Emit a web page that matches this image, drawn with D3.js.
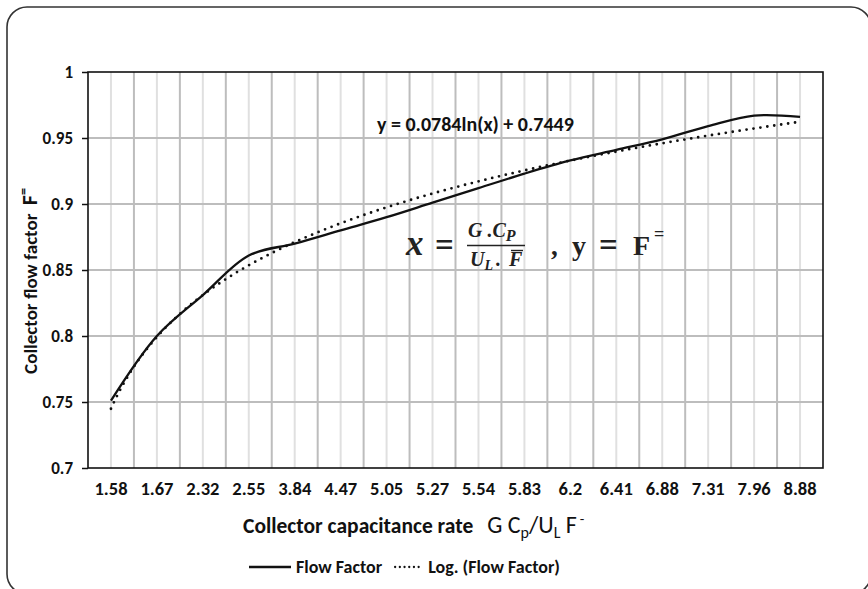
<!DOCTYPE html>
<html>
<head>
<meta charset="utf-8">
<script src="https://cdn.jsdelivr.net/npm/d3@7"></script>
<style>
  html, body { margin: 0; padding: 0; background: #fff; }
  svg { display: block; }
  .lbl { font-family: Carlito, "Liberation Sans Narrow", "Open Sans", sans-serif; font-weight: bold; fill: #111; }
  .math { font-family: "Liberation Serif", "DejaVu Serif", serif; font-weight: bold; fill: #222; }
</style>
</head>
<body>
<svg id="chart" width="868" height="589"></svg>
<script>
// Collector capacitance rate categories (x axis)
const categories = ["1.58", "1.67", "2.32", "2.55", "3.84", "4.47", "5.05", "5.27",
                    "5.54", "5.83", "6.2", "6.41", "6.88", "7.31", "7.96", "8.88"];
// Collector flow factor for each category
const flowFactor = [0.751, 0.800, 0.831, 0.861, 0.870, 0.880, 0.890, 0.901,
                    0.912, 0.923, 0.933, 0.941, 0.949, 0.959, 0.967, 0.966];
// Logarithmic trendline coefficients: y = a ln(x) + b, x = category index
const trendA = 0.0784;
const trendB = 0.7449;
const yTicks = [0.7, 0.75, 0.8, 0.85, 0.9, 0.95, 1];
const yTickLabels = ["0.7", "0.75", "0.8", "0.85", "0.9", "0.95", "1"];
const seriesNames = ["Flow Factor", "Log. (Flow Factor)"];

const svg = d3.select("#chart");
const plot = { left: 88, right: 823, top: 72, bottom: 468 };

// outer rounded frame
svg.append("rect")
  .attr("x", 7).attr("y", 7).attr("width", 864).attr("height", 587)
  .attr("rx", 20).attr("ry", 20)
  .attr("fill", "none").attr("stroke", "#333").attr("stroke-width", 1.6);

const x = d3.scaleBand().domain(categories).range([plot.left, plot.right]).padding(0);
const y = d3.scaleLinear().domain([0.7, 1]).range([plot.bottom, plot.top]);
const cx = c => x(c) + x.bandwidth() / 2;

const grid = svg.append("g");
// minor vertical gridlines at category centres
grid.selectAll(".vminor").data(categories).join("line")
  .attr("x1", d => cx(d)).attr("x2", d => cx(d))
  .attr("y1", plot.top).attr("y2", plot.bottom)
  .attr("stroke", "#e0e0e0").attr("stroke-width", 2);
// major vertical gridlines at category boundaries
grid.selectAll(".vmajor").data(categories.slice(1)).join("line")
  .attr("x1", d => x(d)).attr("x2", d => x(d))
  .attr("y1", plot.top).attr("y2", plot.bottom)
  .attr("stroke", "#bdbdbd").attr("stroke-width", 2);
// horizontal gridlines
grid.selectAll(".h").data(yTicks.slice(1, -1)).join("line")
  .attr("x1", plot.left).attr("x2", plot.right)
  .attr("y1", d => y(d)).attr("y2", d => y(d))
  .attr("stroke", "#bdbdbd").attr("stroke-width", 2);

// plot border
svg.append("rect")
  .attr("x", plot.left).attr("y", plot.top)
  .attr("width", plot.right - plot.left).attr("height", plot.bottom - plot.top)
  .attr("fill", "none").attr("stroke", "#111").attr("stroke-width", 1.6);

// y axis
const yAxis = d3.axisLeft(y).tickValues(yTicks)
  .tickFormat((d, i) => yTickLabels[i]).tickSize(6).tickPadding(9);
const gy = svg.append("g").attr("transform", `translate(${plot.left},0)`).call(yAxis);
gy.select(".domain").remove();
gy.selectAll(".tick line").attr("stroke", "#111").attr("stroke-width", 1.5);
gy.selectAll(".tick text").attr("class", "lbl").style("font-size", "17px");

// x axis
const xAxis = d3.axisBottom(x).tickSize(0).tickPadding(14);
const gx = svg.append("g").attr("transform", `translate(0,${plot.bottom})`).call(xAxis);
gx.select(".domain").remove();
gx.selectAll(".tick text").attr("class", "lbl").style("font-size", "18.5px");

// logarithmic trendline (dotted)
const idx = d3.scaleLinear().domain([1, categories.length])
  .range([cx(categories[0]), cx(categories[categories.length - 1])]);
const trendPts = d3.range(1, categories.length + 0.001, 0.05)
  .map(t => [idx(t), y(trendA * Math.log(t) + trendB)]);
svg.append("path")
  .attr("d", d3.line()(trendPts))
  .attr("fill", "none").attr("stroke", "#111").attr("stroke-width", 2.8)
  .attr("stroke-linecap", "round").attr("stroke-dasharray", "0,7");

// flow factor series (smoothed line)
svg.append("path")
  .datum(flowFactor)
  .attr("d", d3.line().x((d, i) => cx(categories[i])).y(d => y(d)).curve(d3.curveCatmullRom.alpha(0.5)))
  .attr("fill", "none").attr("stroke", "#111").attr("stroke-width", 2.3);

// trendline equation
svg.append("text").attr("class", "lbl")
  .attr("x", 377).attr("y", 131).style("font-size", "20px")
  .text(`y = ${trendA}ln(x) + ${trendB}`);

// definition of x and y
const m = svg.append("g").attr("class", "math");
m.append("text").attr("x", 406).attr("y", 255).style("font-size", "35px").style("font-style", "italic").text("x");
m.append("text").attr("x", 435).attr("y", 256).style("font-size", "33px").text("=");
const num = m.append("text").attr("x", 468).attr("y", 237).style("font-size", "20px").style("font-style", "italic");
num.append("tspan").text("G .C");
num.append("tspan").attr("dy", 4).style("font-size", "16px").text("P");
m.append("line").attr("x1", 467).attr("x2", 525).attr("y1", 245.5).attr("y2", 245.5)
  .attr("stroke", "#222").attr("stroke-width", 1.6);
const den = m.append("text").attr("x", 470).attr("y", 266).style("font-size", "20px").style("font-style", "italic");
den.append("tspan").text("U");
den.append("tspan").attr("dy", 4).style("font-size", "14px").text("L");
den.append("tspan").attr("dy", -4).attr("dx", 3).style("font-size", "20px").text(".");
m.append("text").attr("x", 509).attr("y", 266).style("font-size", "20px").style("font-style", "italic").text("F");
m.append("line").attr("x1", 511).attr("x2", 523).attr("y1", 250.5).attr("y2", 250.5)
  .attr("stroke", "#222").attr("stroke-width", 1.4);
m.append("text").attr("x", 551).attr("y", 255).style("font-size", "27px").text(",");
m.append("text").attr("x", 572).attr("y", 255).style("font-size", "28px").text("y");
m.append("text").attr("x", 599).attr("y", 256).style("font-size", "33px").text("=");
m.append("text").attr("x", 633).attr("y", 255).style("font-size", "28px").text("F");
m.append("text").attr("x", 654).attr("y", 240).style("font-size", "18px").text("=");

// x axis title
const xt = svg.append("text").attr("class", "lbl").attr("x", 243).attr("y", 533).style("font-size", "21.5px");
xt.append("tspan").text("Collector capacitance rate");
const xtn = (t, size, dy, dx) => xt.append("tspan").attr("dy", dy).attr("dx", dx || 0)
  .style("font-weight", "normal").style("font-size", size + "px").text(t);
xtn("G C", 24, 0, 14);
xtn("p", 16, 5);
xtn("/U", 24, -5);
xtn("L", 16, 5);
xtn(" F", 24, -5);
xtn("-", 15, -9, 3);

// y axis title (rotated)
const yt = svg.append("text").attr("class", "lbl")
  .attr("transform", "translate(37,281) rotate(-90)")
  .attr("text-anchor", "middle").style("font-size", "19px");
yt.append("tspan").text("Collector flow factor ");
yt.append("tspan").attr("dx", 4).style("font-size", "22px").text("F");
yt.append("tspan").attr("dy", -9).style("font-size", "14px").text("=");

// legend, laid out left to right
const lg = svg.append("g");
let lx = 249;
const ly = 567;
seriesNames.forEach((name, i) => {
  const sample = lg.append("line").attr("x1", lx).attr("x2", lx + (i === 0 ? 42 : 28))
    .attr("y1", ly).attr("y2", ly).attr("stroke", "#111").attr("stroke-width", 2.3);
  if (i === 1) sample.attr("stroke-linecap", "round").attr("stroke-dasharray", "0,4.7");
  lx += (i === 0 ? 42 : 28) + 5;
  const t = lg.append("text").attr("class", "lbl").attr("x", lx).attr("y", ly + 6)
    .style("font-size", "18px").text(name);
  lx += t.node().getComputedTextLength() + 13;
});
</script>
</body>
</html>
